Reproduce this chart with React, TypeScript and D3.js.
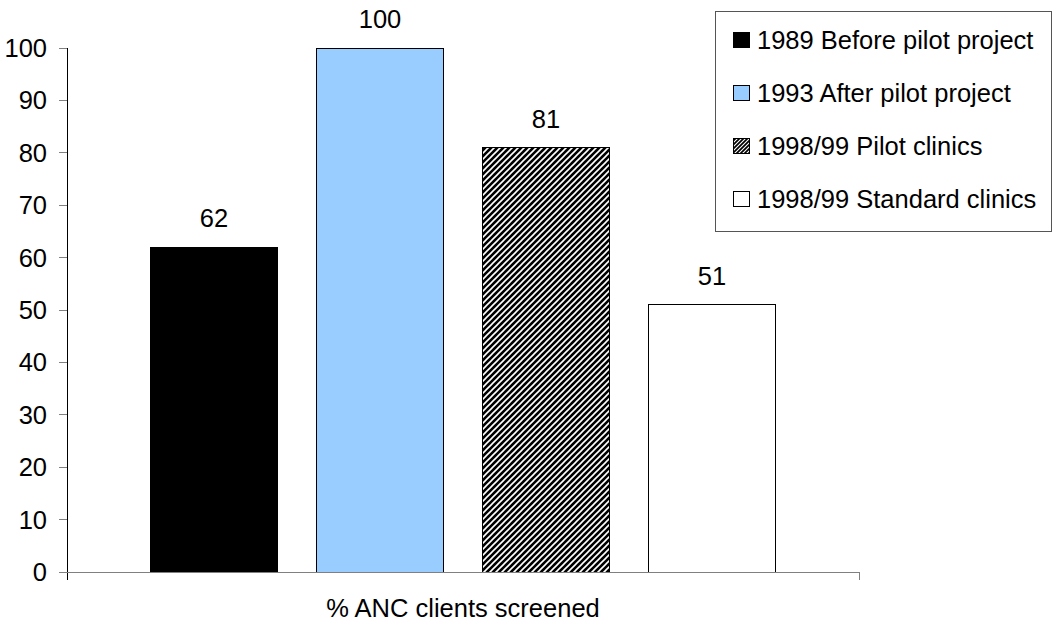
import React from "react";
import * as d3 from "d3";

const seriesNames = [
  "1989 Before pilot project",
  "1993 After pilot project",
  "1998/99 Pilot clinics",
  "1998/99 Standard clinics",
];
const seriesValues = [62, 100, 81, 51];
const seriesFills = ["#000000", "#99CCFF", "url(#hatch)", "#FFFFFF"];
const yTicks = [0, 10, 20, 30, 40, 50, 60, 70, 80, 90, 100];
const categoryLabel = "% ANC clients screened";

const W = 1053;
const H = 623;
const FONT = "'Liberation Sans', Arial, sans-serif";
const FS = 25.5;

export default function App() {
  const x0 = 67;
  const x1 = 859;
  const y = d3.scaleLinear().domain([0, 100]).range([572, 48]);
  const x = d3
    .scaleBand<string>()
    .domain(seriesNames)
    .range([x0, x1])
    .paddingInner(0.229)
    .paddingOuter(0.5);

  const legendRowY = (i: number) => 40 + i * 53;

  return (
    <svg
      width={W}
      height={H}
      style={{ position: "absolute", left: 0, top: 0, background: "#fff" }}
      fontFamily={FONT}
    >
      <defs>
        <pattern id="hatch" patternUnits="userSpaceOnUse" width={6} height={6}>
          <rect width={6} height={6} fill="#000" />
          <path d="M-1,7 L7,-1 M-4,4 L4,-4 M2,10 L10,2" stroke="#fff" strokeWidth={1.6} />
        </pattern>
        <pattern id="hatchL" patternUnits="userSpaceOnUse" width={4} height={4}>
          <rect width={4} height={4} fill="#000" />
          <path d="M-1,5 L5,-1 M-3,3 L3,-3 M1,7 L7,1" stroke="#fff" strokeWidth={1.1} />
        </pattern>
      </defs>

      {/* bars */}
      {seriesNames.map((s, i) => (
        <g key={s}>
          <rect
            x={x(s)!}
            y={y(seriesValues[i])}
            width={x.bandwidth()}
            height={y(0) - y(seriesValues[i])}
            fill={seriesFills[i]}
            stroke="#000"
            strokeWidth={1}
            shapeRendering="crispEdges"
          />
          <text
            x={x(s)! + x.bandwidth() / 2}
            y={y(seriesValues[i]) - 20}
            textAnchor="middle"
            fontSize={FS}
            fill="#000"
          >
            {seriesValues[i]}
          </text>
        </g>
      ))}

      {/* y axis */}
      <line x1={x0} x2={x0} y1={y(100)} y2={580} stroke="#000" strokeWidth={1} shapeRendering="crispEdges" />
      {yTicks.map((t) => (
        <g key={t}>
          <line x1={59} x2={x0} y1={y(t)} y2={y(t)} stroke="#808080" strokeWidth={1} shapeRendering="crispEdges" />
          <text x={47} y={y(t) + 9} textAnchor="end" fontSize={FS} fill="#000">
            {t}
          </text>
        </g>
      ))}

      {/* x axis */}
      <line x1={59} x2={x1} y1={y(0)} y2={y(0)} stroke="#808080" strokeWidth={1} shapeRendering="crispEdges" />
      <line x1={x1} x2={x1} y1={y(0)} y2={580} stroke="#808080" strokeWidth={1} shapeRendering="crispEdges" />
      <text x={(x0 + x1) / 2} y={617} textAnchor="middle" fontSize={FS} fill="#000">
        {categoryLabel}
      </text>

      {/* legend */}
      <rect x={715.5} y={11.5} width={336} height={220} fill="#fff" stroke="#555" strokeWidth={1} shapeRendering="crispEdges" />
      {seriesNames.map((s, i) => (
        <g key={"lg" + s}>
          <rect
            x={733.5}
            y={legendRowY(i) - 7.5}
            width={16}
            height={15}
            fill={i === 2 ? "url(#hatchL)" : seriesFills[i]}
            stroke="#000"
            strokeWidth={1}
            shapeRendering="crispEdges"
          />
          <text x={757} y={legendRowY(i) + 9} fontSize={FS} fill="#000">
            {s}
          </text>
        </g>
      ))}
    </svg>
  );
}
